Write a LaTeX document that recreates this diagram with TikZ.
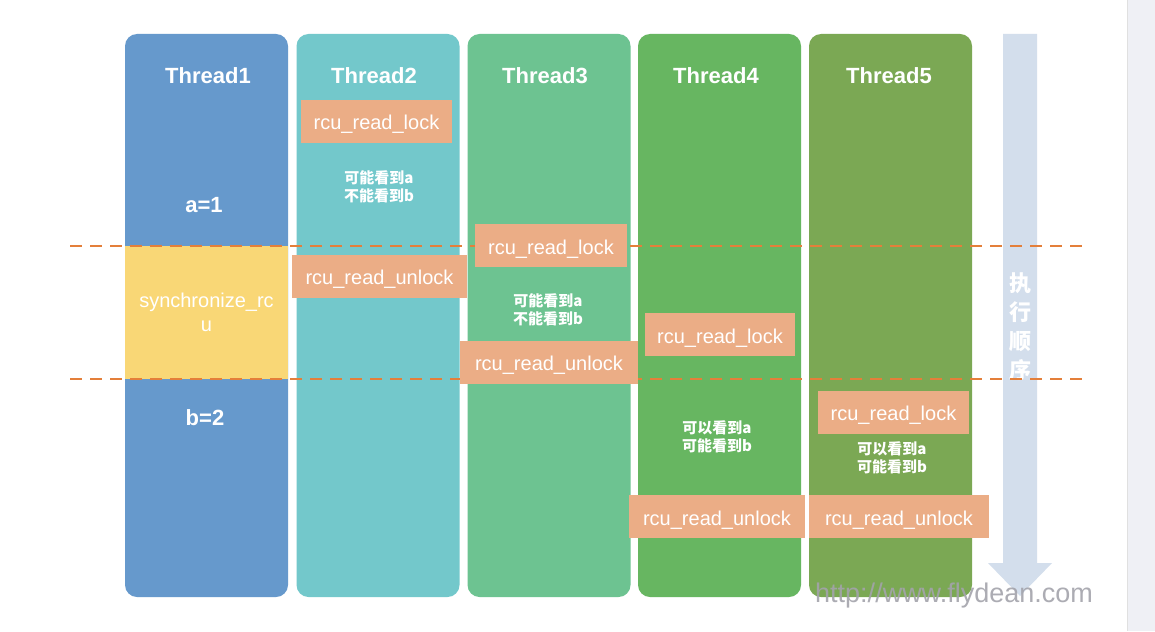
\documentclass[tikz,border=0pt]{standalone}
\usepackage{fontspec}
\setmainfont{Liberation Sans}
\newfontfamily\cjk{Noto Sans CJK SC}
\begin{document}
\begin{tikzpicture}[x=1pt,y=-1pt,
  col/.style={inner sep=0pt, minimum width=163pt, rounded corners=12pt},
  ttl/.style={text=white, font=\fontsize{22}{26}\selectfont\bfseries, inner sep=0pt},
  opbox/.style={fill=opc, text=white, inner sep=0pt, minimum height=43pt, text height=17pt, text depth=0pt, font=\fontsize{20}{24}\selectfont},
  note/.style={text=white, align=center, inner sep=0pt, font=\cjk\bfseries\fontsize{15}{18}\selectfont},
  sep/.style={draw=dashc, line width=2.5pt, dash pattern=on 12pt off 8pt}
]
\definecolor{c1}{RGB}{102,153,204}
\definecolor{c2}{RGB}{115,200,203}
\definecolor{c3}{RGB}{109,195,145}
\definecolor{c4}{RGB}{103,182,97}
\definecolor{c5}{RGB}{123,168,84}
\definecolor{yel}{RGB}{249,215,118}
\definecolor{opc}{RGB}{235,173,134}
\definecolor{dashc}{RGB}{228,127,58}
\definecolor{arr}{RGB}{211,222,236}
\definecolor{side}{RGB}{239,240,245}
\definecolor{wm}{RGB}{163,163,171}
\useasboundingbox (0,0) rectangle (1155,631);
\fill[white] (0,0) rectangle (1155,631);
\fill[side] (1127,0) rectangle (1155,631);
\draw[line width=0.8pt, black!12] (1127,0) -- (1127,631);

% columns
\node[col, fill=c1, minimum height=563pt] (t1) at (206.5,315.5) {};
\node[col, fill=c2, minimum height=563pt] (t2) at (378,315.5) {};
\node[col, fill=c3, minimum height=563pt] (t3) at (549,315.5) {};
\node[col, fill=c4, minimum height=563pt] (t4) at (719.5,315.5) {};
\node[col, fill=c5, minimum height=563pt] (t5) at (890.5,315.5) {};

% synchronize box
\node[fill=yel, inner sep=0pt, minimum width=163pt, minimum height=133pt, text=white, align=center,
  font=\fontsize{20}{24}\selectfont] (sync) at (206.5,312.5) {synchronize\_rc\\u};

% arrow
\fill[arr] (1003,34) -- (1037,34) -- (1037,563) -- (1052,563) -- (1020,596) -- (988,563) -- (1003,563) -- cycle;
\node[text=white, align=center, inner sep=0pt, font=\cjk\bfseries\fontsize{22}{29}\selectfont] (order) at (1020,327) {执\\行\\顺\\序};

% dashed separators
\coordinate (d1a) at (70,246);
\coordinate (d1b) at (1085,246);
\coordinate (d2a) at (70,379);
\coordinate (d2b) at (1085,379);
\draw[sep] (d1a) -- (d1b);
\draw[sep] (d2a) -- (d2b);

% titles
\node[ttl] (h1) at (208,76) {Thread1};
\node[ttl] (h2) at (374,76) {Thread2};
\node[ttl] (h3) at (545,76) {Thread3};
\node[ttl] (h4) at (716,76) {Thread4};
\node[ttl] (h5) at (889,76) {Thread5};

\node[ttl] (a1) at (204,205) {a=1};
\node[ttl] (b2) at (205,418) {b=2};

% operation boxes
\node[opbox, minimum width=151pt] (l2) at (376.5,121.5) {rcu\_read\_lock};
\node[opbox, minimum width=175pt] (u2) at (379.5,276) {rcu\_read\_unlock};
\node[opbox, minimum width=152pt] (l3) at (551,245.5) {rcu\_read\_lock};
\node[opbox, minimum width=178pt] (u3) at (549,362) {rcu\_read\_unlock};
\node[opbox, minimum width=150pt] (l4) at (720,334.5) {rcu\_read\_lock};
\node[opbox, minimum width=176pt] (u4) at (717,516.5) {rcu\_read\_unlock};
\node[opbox, minimum width=151pt] (l5) at (893.5,412) {rcu\_read\_lock};
\node[opbox, minimum width=180pt] (u5) at (899,516.5) {rcu\_read\_unlock};

% notes
\node[note] (n2) at (379,187) {可能看到a\\不能看到b};
\node[note] (n3) at (548,310) {可能看到a\\不能看到b};
\node[note] (n4) at (717,437) {可以看到a\\可能看到b};
\node[note] (n5) at (892,458) {可以看到a\\可能看到b};

% watermark
\node[text=wm, inner sep=0pt, font=\fontsize{27}{30}\selectfont, opacity=0.9] (wmk) at (954,596) {http://www.flydean.com};
\end{tikzpicture}
\end{document}
